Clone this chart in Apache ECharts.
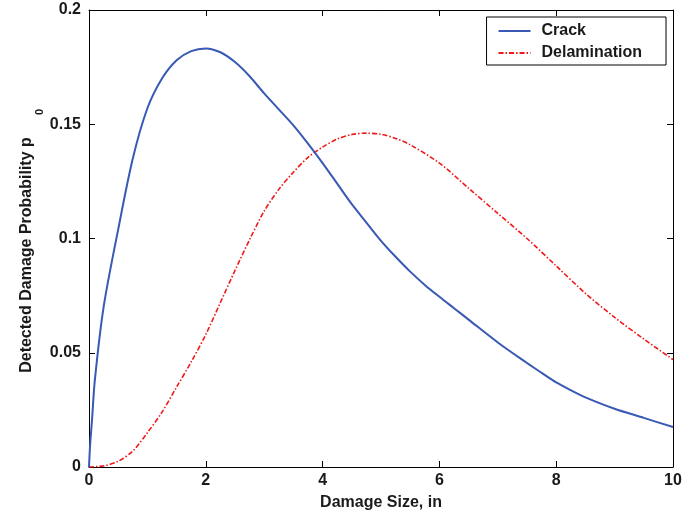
<!DOCTYPE html>
<html>
<head>
<meta charset="utf-8">
<script src="https://cdn.jsdelivr.net/npm/echarts@6/dist/echarts.min.js"></script>
<style>
  html, body { margin: 0; padding: 0; background: #fff; }
  #chart { width: 688px; height: 516px; }
</style>
</head>
<body>
<div id="chart"></div>
<script>
// values
const crackX = [0, 0.02, 0.05, 0.1, 0.25, 0.5, 0.75, 1, 1.25, 1.5, 1.75, 2, 2.25, 2.5, 2.75, 3, 3.25, 3.5, 3.75, 4, 4.25, 4.5, 4.75, 5, 5.25, 5.5, 5.75, 6, 6.25, 6.5, 7, 7.5, 7.75, 8, 8.25, 8.5, 9, 9.5, 10]
const crackY = [0, 0.01, 0.02, 0.038, 0.07, 0.104, 0.135, 0.157, 0.17, 0.178, 0.182, 0.1832, 0.1815, 0.1772, 0.171, 0.1635, 0.1565, 0.1495, 0.1415, 0.133, 0.124, 0.115, 0.107, 0.099, 0.092, 0.0855, 0.0797, 0.0745, 0.0695, 0.0645, 0.0545, 0.0455, 0.0412, 0.037, 0.0336, 0.0305, 0.0255, 0.0215, 0.0175]
const delamX = [0, 0.25, 0.5, 0.75, 1, 1.25, 1.5, 1.75, 2, 2.25, 2.5, 2.75, 3, 3.25, 3.5, 3.75, 4, 4.25, 4.5, 4.75, 5, 5.25, 5.5, 6, 6.5, 7, 7.5, 8, 8.5, 9, 9.5, 10]
const delamY = [0, 0.0005, 0.0025, 0.007, 0.015, 0.024, 0.035, 0.046, 0.058, 0.072, 0.086, 0.0995, 0.112, 0.1215, 0.129, 0.1355, 0.14, 0.1435, 0.1455, 0.1461, 0.1456, 0.1438, 0.141, 0.133, 0.122, 0.111, 0.1, 0.088, 0.076, 0.0655, 0.056, 0.047]
const seriesNames = ['Crack', 'Delamination']

const font = 'Liberation Sans'
const txt = '#1a1a1a'

const zip = (xs, ys) => xs.map((x, i) => [x, ys[i]])

const chart = echarts.init(document.getElementById('chart'))

const lineAxis = {
  show: true,
  onZero: false,
  lineStyle: { color: '#000', width: 1 },
}
const tick = {
  show: true,
  inside: true,
  length: 6,
  lineStyle: { color: '#000', width: 1 },
}
const label = {
  color: txt,
  fontFamily: font,
  fontWeight: 'bold',
  fontSize: 16,
}

chart.setOption({
  animation: false,
  backgroundColor: '#fff',
  grid: {
    left: 89,
    right: 15,
    top: 10,
    bottom: 44,
  },
  legend: {
    right: 22,
    top: 17,
    orient: 'vertical',
    align: 'left',
    backgroundColor: '#fff',
    borderColor: '#000',
    borderWidth: 1,
    borderRadius: 0,
    padding: [6, 24, 4, 11],
    itemWidth: 32,
    itemHeight: 14,
    itemGap: 6,
    itemStyle: { opacity: 0 },
    textStyle: {
      color: txt,
      fontFamily: font,
      fontWeight: 'bold',
      fontSize: 16,
      padding: [0, 0, 0, 6],
    },
    data: seriesNames,
  },
  xAxis: [
    {
      type: 'value',
      min: 0,
      max: 10,
      interval: 2,
      name: 'Damage Size, in',
      nameLocation: 'middle',
      nameGap: 28,
      nameTextStyle: label,
      axisLine: lineAxis,
      axisTick: tick,
      axisLabel: Object.assign({ margin: 6 }, label),
      splitLine: { show: false },
    },
    {
      type: 'value',
      position: 'top',
      min: 0,
      max: 10,
      interval: 2,
      axisLine: lineAxis,
      axisTick: tick,
      axisLabel: { show: false },
      splitLine: { show: false },
    },
  ],
  yAxis: [
    {
      type: 'value',
      min: 0,
      max: 0.2,
      interval: 0.05,
      axisLine: lineAxis,
      axisTick: tick,
      axisLabel: Object.assign({ margin: 8 }, label),
      splitLine: { show: false },
    },
    {
      type: 'value',
      position: 'right',
      min: 0,
      max: 0.2,
      interval: 0.05,
      axisLine: lineAxis,
      axisTick: tick,
      axisLabel: { show: false },
      splitLine: { show: false },
    },
  ],
  graphic: [
    {
      type: 'text',
      x: 27,
      y: 255,
      rotation: Math.PI / 2,
      style: {
        text: 'Detected Damage Probability p',
        fill: txt,
        font: 'bold 16px "Liberation Sans"',
        align: 'center',
        verticalAlign: 'middle',
      },
    },
    {
      type: 'text',
      x: 40,
      y: 112,
      rotation: Math.PI / 2,
      style: {
        text: '0',
        fill: txt,
        font: 'bold 11px "Liberation Sans"',
        align: 'center',
        verticalAlign: 'middle',
      },
    },
  ],
  series: [
    {
      name: seriesNames[0],
      type: 'line',
      data: zip(crackX, crackY),
      smooth: 0.3,
      symbol: 'none',
      color: '#3859b4',
      lineStyle: { color: '#3859b4', width: 2 },
      z: 3,
    },
    {
      name: seriesNames[1],
      type: 'line',
      data: zip(delamX, delamY),
      smooth: 0.3,
      symbol: 'none',
      color: '#f01818',
      lineStyle: { color: '#f01818', width: 1.6, type: [5, 2, 1.5, 2] },
      z: 2,
    },
  ],
})
</script>
</body>
</html>
